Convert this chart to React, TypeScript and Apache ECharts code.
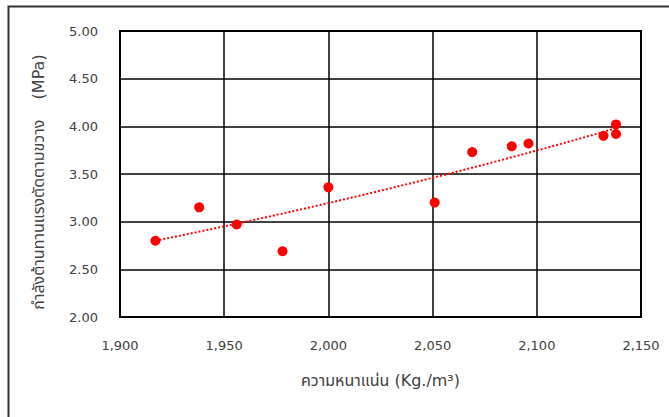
import React, { useEffect, useRef } from "react";
import * as echarts from "echarts";

// Data
const densities = [1917, 1938, 1956, 1978, 2000, 2051, 2069, 2088, 2096, 2132, 2138, 2138];
const strengths = [2.80, 3.15, 2.97, 2.69, 3.36, 3.20, 3.73, 3.79, 3.82, 3.90, 3.92, 4.02];

const xTitle = "ความหนาแน่น (Kg./m³)";
const yTitle = "กำลังต้านทานแรงตัดตามขวาง    (MPa)";

const FONT = "'DejaVu Sans', 'Noto Sans', 'Noto Sans Thai', sans-serif";

// Exponential trend line (least squares on ln y), as in a spreadsheet trendline
function expTrend(xs: number[], ys: number[], steps: number): number[][] {
  const n = xs.length;
  const ly = ys.map((v) => Math.log(v));
  const mx = xs.reduce((a, b) => a + b, 0) / n;
  const my = ly.reduce((a, b) => a + b, 0) / n;
  let sxy = 0;
  let sxx = 0;
  for (let i = 0; i < n; i++) {
    sxy += (xs[i] - mx) * (ly[i] - my);
    sxx += (xs[i] - mx) * (xs[i] - mx);
  }
  const b = sxy / sxx;
  const a = my - b * mx;
  const x0 = Math.min(...xs);
  const x1 = Math.max(...xs);
  const out: number[][] = [];
  for (let i = 0; i <= steps; i++) {
    const x = x0 + ((x1 - x0) * i) / steps;
    out.push([x, Math.exp(a + b * x)]);
  }
  return out;
}

export default function App() {
  const ref = useRef<HTMLDivElement>(null);

  useEffect(() => {
    if (!ref.current) return;
    const chart = echarts.init(ref.current, undefined, { renderer: "svg" });
    const points = densities.map((d, i) => [d, strengths[i]]);
    chart.setOption({
      animation: false,
      backgroundColor: "#ffffff",
      grid: {
        left: 120,
        right: 28,
        top: 31,
        bottom: 100,
        show: true,
        borderColor: "#000000",
        borderWidth: 2,
        backgroundColor: "transparent",
      },
      xAxis: {
        type: "value",
        min: 1900,
        max: 2150,
        interval: 50,
        name: xTitle,
        nameLocation: "middle",
        nameGap: 55,
        nameTextStyle: { fontFamily: FONT, fontSize: 16, color: "#404040" },
        axisLine: { show: true, lineStyle: { color: "#000000", width: 2 } },
        axisTick: { show: false },
        axisLabel: {
          margin: 22,
          fontFamily: FONT,
          fontSize: 13,
          color: "#404040",
          formatter: (v: number) => v.toLocaleString("en-US"),
        },
        splitLine: { show: true, lineStyle: { color: "#000000", width: 1.5 } },
      },
      yAxis: {
        type: "value",
        min: 2,
        max: 5,
        interval: 0.5,
        name: yTitle,
        nameLocation: "middle",
        nameGap: 74,
        nameTextStyle: {
          fontFamily: FONT,
          fontSize: 16,
          color: "#404040",
          padding: [0, 16, 0, 0],
        },
        axisLine: { show: true, lineStyle: { color: "#000000", width: 2 } },
        axisTick: { show: false },
        axisLabel: {
          margin: 22,
          fontFamily: FONT,
          fontSize: 13,
          color: "#404040",
          formatter: (v: number) => v.toFixed(2),
        },
        splitLine: { show: true, lineStyle: { color: "#000000", width: 1.5 } },
      },
      graphic: [
        {
          type: "polyline",
          shape: { points: [[8.5, 417], [8.5, 6.5], [669, 6.5]] },
          style: { stroke: "#333333", lineWidth: 2, fill: "none" },
          silent: true,
        },
      ],
      series: [
        {
          type: "line",
          data: expTrend(densities, strengths, 40),
          showSymbol: false,
          symbol: "none",
          lineStyle: { color: "#ff0000", width: 2, type: [2, 2] },
          z: 3,
        },
        {
          type: "scatter",
          data: points,
          symbol: "circle",
          symbolSize: 10,
          itemStyle: { color: "#ff0000", opacity: 1 },
          z: 4,
        },
      ],
    });
    return () => chart.dispose();
  }, []);

  return (
    <div
      ref={ref}
      style={{ position: "fixed", left: 0, top: 0, width: 669, height: 417 }}
    />
  );
}
